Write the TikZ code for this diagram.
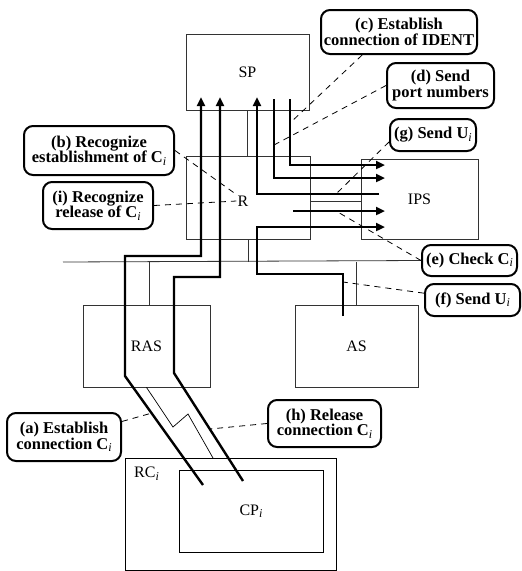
\documentclass[tikz,border=0pt]{standalone}
\usepackage{fontspec}
\setmainfont{Liberation Serif}
\usetikzlibrary{arrows.meta, positioning, calc}

\newcommand{\isub}{\raisebox{-0.3ex}{\fontsize{12}{12}\selectfont\mdseries\itshape i}}

\begin{document}
\begin{tikzpicture}
  [x=1pt,y=-1pt,
   every node/.style={font=\fontsize{16}{15.5}\selectfont},
   box/.style={draw=black!80,line width=0.8pt,rectangle,inner sep=0pt},
   tag/.style={draw,line width=2pt,rounded corners=9pt,align=center,
     font=\fontsize{16.5}{15.5}\selectfont\bfseries,inner sep=1pt},
   thin/.style={draw=black!80,line width=0.8pt},
   flow/.style={line width=2.4pt,-{Triangle[length=9pt,width=8pt]}},
   lead/.style={line width=0.8pt,dash pattern=on 6pt off 5pt}]
  \useasboundingbox (0,0) rectangle (522,571);

  % the boxes
  \node[box,minimum width=123,minimum height=76] (sp)  at (247.5,72)  {SP};
  \node[box,minimum width=124,minimum height=83] (r)   at (248,197.5) {};
  \node[inner sep=1pt] (rtxt) at (243,201) {R};
  \node[box,minimum width=117,minimum height=80] (ips) at (419.5,199) {IPS};
  \node[box,minimum width=127,minimum height=82] (ras) at (146.5,346) {RAS};
  \node[box,minimum width=123,minimum height=82] (as)  at (356.5,346) {AS};
  \node[box,draw=black,minimum width=211,minimum height=112] (rc) at (230.5,514) {};
  \node[anchor=north west,inner sep=0pt] (rctxt) at (134,467) {RC\isub};
  \node[box,draw=black,minimum width=144,minimum height=82] (cp) at (251,511) {CP\isub};

  % the callouts
  \node[tag,minimum width=156,minimum height=44] (c) at (399,32)     {(c) Establish\\connection of IDENT};
  \node[tag,minimum width=107,minimum height=45] (d) at (440.5,85.5) {(d) Send\\port numbers};
  \node[tag,minimum width=86,minimum height=32]  (g) at (433,135)    {(g) Send U\isub};
  \node[tag,minimum width=150,minimum height=49] (b) at (99,150.5)   {(b) Recognize\\establishment of C\isub};
  \node[tag,minimum width=110,minimum height=47] (i) at (98,205.5)   {(i) Recognize\\release of C\isub};
  \node[tag,minimum width=95,minimum height=31]  (e) at (469.5,260.5) {(e) Check C\isub};
  \node[tag,minimum width=95,minimum height=32]  (f) at (472.5,300)  {(f) Send U\isub};
  \node[tag,minimum width=114,minimum height=48] (a) at (64,437)     {(a) Establish\\connection C\isub};
  \node[tag,minimum width=113,minimum height=47] (h) at (324.5,423.5) {(h) Release\\connection C\isub};

  % ends of the flows and leaders
  \coordinate (bl) at (63,262);
  \coordinate (p1s) at (203,485);  \coordinate (p1e) at (201,97);
  \coordinate (p2s) at (243,481);  \coordinate (p2e) at (220,97);
  \coordinate (p3s) at (379,194);  \coordinate (p3e) at (257,97);
  \coordinate (p4s) at (274,99);   \coordinate (p4e) at (385,178);
  \coordinate (p5s) at (290,99);   \coordinate (p5e) at (385,165);
  \coordinate (p6s) at (293,211);  \coordinate (p6e) at (385,211);
  \coordinate (p7s) at (343,316);  \coordinate (p7e) at (385,227);
  \coordinate (lk) at (213,458);
  \coordinate (tc) at (290,123);
  \coordinate (td) at (274,145);
  \coordinate (tg) at (336,194);
  \coordinate (te) at (336,211);
  \coordinate (tf) at (343,282);
  \coordinate (ta) at (152,413);
  \coordinate (th) at (210,429);

  % bus and links
  \draw[thin] (bl) -- (e.west);
  \draw[thin] (sp.south) -- (sp.south |- r.north);
  \draw[thin] (r.south) -- (r.south |- bl);
  \draw[thin] ([xshift=2.5pt]ras.north) -- ([xshift=2.5pt]ras.north |- bl);
  \draw[thin] (as.north) -- (as.north |- bl);
  \draw[thin] ([yshift=-3.5pt]r.east) -- ([yshift=-3.5pt]r.east -| ips.west);
  \draw[black,line width=0.7pt] (ras.south) -- (173,427) -- (188,414) -- (lk);

  % flows
  \draw[flow] (p1s) -- (125,376) -- (125,256) -| (p1e);
  \draw[flow] (p2s) -- (174,373) -- (174,277) -| (p2e);
  \draw[flow] (p3s) -| (p3e);
  \draw[flow] (p4s) |- (p4e);
  \draw[flow] (p5s) |- (p5e);
  \draw[flow] (p6s) -- (p6e);
  \draw[flow] (p7s) |- (257,274) |- (p7e);

  % leaders
  \draw[lead] (c.212) -- (tc);
  \draw[lead] (d.west) -- (td);
  \draw[lead] (g.189) -- (tg);
  \draw[lead] (b.east) -- (rtxt.north west);
  \draw[lead] (i.east) -- (rtxt.west);
  \draw[lead] (e.west) -- (te);
  \draw[lead] (f.172) -- (tf);
  \draw[lead] (a.15) -- (ta);
  \draw[lead] (h.west) -- (th);
\end{tikzpicture}
\end{document}
